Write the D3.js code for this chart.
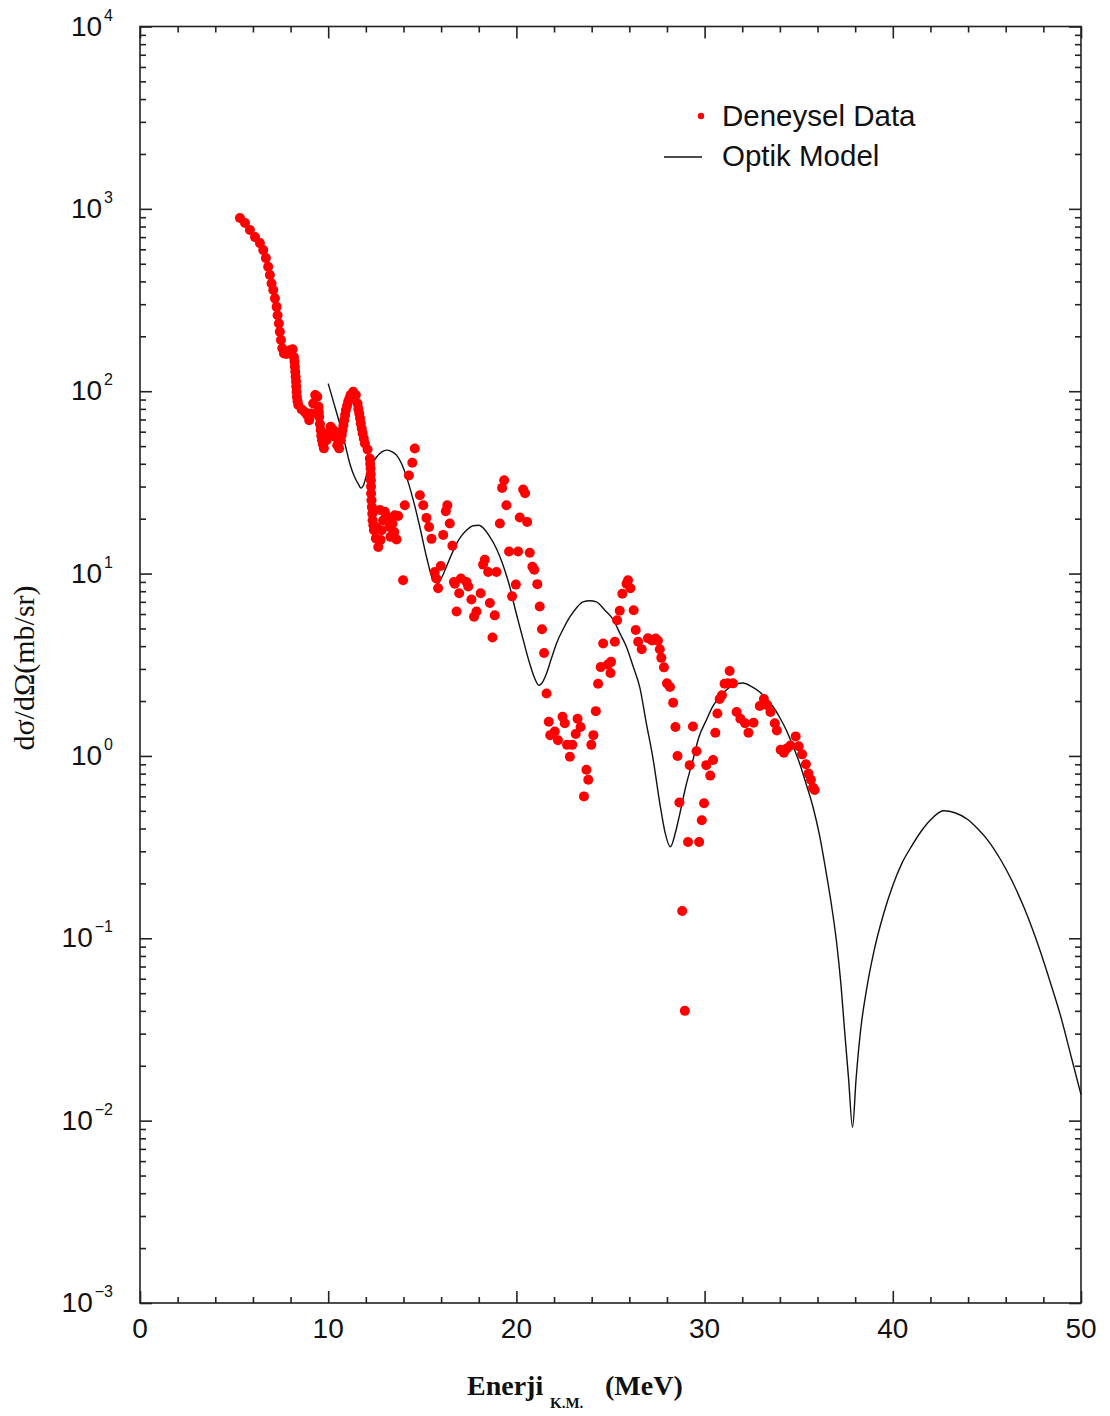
<!DOCTYPE html>
<html>
<head>
<meta charset="utf-8">
<script src="https://cdn.jsdelivr.net/npm/d3@7/dist/d3.min.js"></script>
<style>
  body { margin: 0; background: #ffffff; }
  svg { display: block; }
</style>
</head>
<body>
<svg id="chart" width="1110" height="1416"></svg>
<script>
// Measured differential cross section (mb/sr) vs. centre-of-mass energy (MeV)
const expEnergy = [
  5.31, 5.58, 5.84, 6.11, 6.37, 6.55, 6.69, 6.81, 6.90, 6.99, 7.08, 7.17, 7.26, 7.31, 7.38, 7.43,
  7.49, 7.56, 7.65, 7.79, 7.97, 8.11, 8.18, 8.21, 8.23, 8.25, 8.27, 8.29, 8.30, 8.32, 8.34, 8.37,
  8.41, 8.59, 8.76, 8.88, 8.99, 9.12, 9.20, 9.31, 9.42, 9.49, 9.50, 9.52, 9.56, 9.60, 9.63, 9.67,
  9.72, 9.77, 9.92, 10.00, 10.13, 10.27, 10.36, 10.48, 10.58, 10.67, 10.72, 10.76, 10.81, 10.85,
  10.90, 10.94, 11.00, 11.06, 11.12, 11.19, 11.33, 11.47, 11.56, 11.60, 11.65, 11.69, 11.73, 11.78,
  11.83, 11.89, 11.95, 12.09, 12.21, 12.23, 12.25, 12.26, 12.27, 12.275, 12.28, 12.30, 12.32, 12.34,
  12.36, 12.40, 12.43, 12.53, 12.57, 12.66, 12.75, 12.78, 12.84, 12.92, 13.01, 13.13, 13.24, 13.31,
  13.42, 13.51, 13.54, 13.63, 13.72,
  13.98, 14.07, 14.29, 14.47, 14.60, 14.87, 15.05, 15.22, 15.36, 15.49, 15.66, 15.74, 15.84, 15.98,
  16.11, 16.25, 16.33, 16.46, 16.60, 16.68, 16.73, 16.82, 16.96, 17.05, 17.35, 17.44, 17.61, 17.75,
  17.88, 18.10, 18.23, 18.32, 18.50, 18.59, 18.73, 18.85, 18.94, 19.12, 19.24, 19.35, 19.47, 19.61,
  19.77, 19.97, 20.09, 20.18, 20.36, 20.46, 20.57, 20.71, 20.85, 20.95, 21.11, 21.24, 21.36, 21.47,
  21.60, 21.72, 21.80, 22.04, 22.21, 22.45, 22.57, 22.69, 22.84, 22.97, 23.15, 23.25, 23.41, 23.59,
  23.72, 23.82, 23.98, 24.09, 24.22, 24.34, 24.48, 24.61, 24.86, 25.00, 25.03, 25.23, 25.35, 25.49,
  25.63, 25.85, 25.93, 26.06, 26.23, 26.34, 26.47, 26.66, 26.99, 27.20, 27.40, 27.52, 27.62, 27.70,
  27.84, 28.00, 28.16, 28.33, 28.45, 28.56, 28.66, 28.81, 28.95, 29.12, 29.21, 29.38, 29.57, 29.71,
  29.85, 29.97, 30.09, 30.30, 30.45, 30.57, 30.68, 30.80, 30.92, 31.06, 31.24, 31.33, 31.51, 31.70,
  31.90, 32.15, 32.33, 32.60, 32.93, 33.15, 33.33, 33.50, 33.73, 33.84, 34.04, 34.21, 34.37, 34.56,
  34.84, 35.00, 35.18, 35.38, 35.52, 35.65, 35.76, 35.85
];
const expSigma = [
  890, 836, 765, 700, 649, 594, 537, 481, 434, 390, 359, 323, 290, 261, 235, 212,
  191, 172, 161, 160, 168, 170, 154, 145, 136, 128, 120, 113, 106, 99, 93, 88,
  84, 79.5, 77, 74, 69.4, 75.5, 85.7, 95.2, 93.2, 82.1, 77, 72.4, 66, 61.2, 57, 53.9,
  51, 48.6, 53.9, 58.7, 63.8, 61.2, 56.2, 50.6, 48.6, 53.9, 57.5, 61.2, 65, 69.4,
  74, 78.8, 83, 87.5, 91, 95.2, 99.2, 95.2, 85.7, 80, 75.5, 71, 66.6, 62.5,
  58.7, 55, 51.7, 47.9, 42.8, 40, 37.7, 35, 32.5, 30, 27.5, 25.2, 23.2, 21.3,
  19.6, 18.4, 17.3, 15.6, 18.0, 14.0, 22.3, 15.3, 17.3, 19.6, 21.8, 20.5, 18.0, 15.9,
  18.8, 16.9, 20.9, 15.4, 20.7,
  9.2, 23.7, 34.5, 40.5, 48.5, 26.9, 23.7, 20.2, 18.0, 15.5, 10.2, 9.4, 8.3, 11.0,
  16.3, 22.0, 23.7, 18.8, 14.2, 9.0, 8.8, 6.2, 7.8, 9.4, 9.0, 8.5, 7.2, 5.8,
  6.2, 7.8, 11.2, 11.9, 10.2, 6.9, 4.46, 5.9, 10.2, 18.8, 29.5, 32.5, 23.7, 13.2,
  7.5, 8.7, 13.2, 20.3, 28.9, 27.6, 19.2, 13.0, 10.9, 10.5, 8.75, 6.6, 4.95, 3.67,
  2.2, 1.54, 1.30, 1.36, 1.22, 1.64, 1.51, 1.15, 0.99, 1.15, 1.32, 1.60, 1.44, 0.60,
  0.84, 0.74, 1.15, 1.30, 1.76, 2.49, 3.07, 4.14, 3.17, 2.85, 3.28, 4.23, 5.55, 6.25,
  7.75, 8.8, 9.2, 8.3, 6.3, 4.9, 4.23, 3.85, 4.42, 4.3, 4.4, 4.28, 3.85, 3.45,
  3.06, 2.5, 2.39, 1.96, 1.44, 1.0, 0.555, 0.141, 0.040, 0.337, 0.89, 1.45, 1.06, 0.337,
  0.444, 0.55, 0.89, 0.78, 0.95, 1.34, 1.71, 2.05, 2.15, 2.49, 2.5, 2.92, 2.5, 1.74,
  1.6, 1.51, 1.34, 1.52, 1.88, 2.05, 1.9, 1.74, 1.51, 1.38, 1.08, 1.04, 1.1, 1.14,
  1.28, 1.13, 1.02, 0.9, 0.8, 0.74, 0.67, 0.65
];

// Optical model calculation
const modelEnergy = [
  10.0, 10.3, 10.6, 10.9, 11.15, 11.45, 11.6, 11.74, 11.9, 12.04, 12.3, 12.57, 12.85, 13.1, 13.35,
  13.63, 13.9, 14.16, 14.52, 14.87, 15.22, 15.58, 15.84, 16.05, 16.28, 16.55, 16.82, 17.1, 17.35,
  17.7, 18.0, 18.3, 18.59, 18.85, 19.12, 19.4, 19.65, 19.9, 20.18, 20.45, 20.71, 20.95, 21.19,
  21.4, 21.6, 21.85, 22.13, 22.5, 22.84, 23.2, 23.54, 23.9, 24.25, 24.7, 25.14, 25.5, 25.85,
  26.2, 26.55, 26.91, 27.25, 27.62, 27.9, 28.18, 28.45, 28.68, 29.0, 29.38, 29.7, 30.09, 30.45,
  30.8, 31.15, 31.51, 32.04, 32.5, 32.93, 33.3, 33.64, 34.0, 34.35, 34.7, 35.05, 35.4, 35.76,
  36.1, 36.47, 36.75, 37.0, 37.25, 37.44, 37.65, 37.86, 38.05, 38.3, 38.6, 39.0, 39.5, 40.0,
  40.5, 41.0, 41.5, 42.0, 42.7, 43.3, 44.0, 44.5, 45.0, 45.7, 46.3, 47.0, 47.8, 48.4, 48.9,
  49.5, 50.0
];
const modelSigma = [
  110, 86, 67, 51, 40, 33, 31, 29.4, 31, 34.7, 39.5, 43.6, 46.5, 47.5, 46.8,
  44.6, 40, 33.9, 25.3, 18.0, 12.4, 9.2, 8.83, 9.6, 10.9, 12.7, 14.6, 16.2, 17.3,
  18.3, 18.4, 17.5, 15.9, 14.3, 12.4, 10.3, 8.45, 6.6, 5.1, 4.0, 3.2, 2.7, 2.44,
  2.55, 2.83, 3.4, 4.14, 5.0, 5.78, 6.5, 7.0, 7.1, 7.0, 6.3, 5.6, 4.7, 3.96,
  3.1, 2.39, 1.5, 0.98, 0.55, 0.38, 0.317, 0.38, 0.48, 0.68, 0.95, 1.27, 1.57, 1.88,
  2.11, 2.3, 2.44, 2.51, 2.4, 2.24, 2.05, 1.86, 1.62, 1.38, 1.13, 0.91, 0.7, 0.525,
  0.37, 0.226, 0.15, 0.0975, 0.055, 0.031, 0.017, 0.0092, 0.017, 0.032, 0.052, 0.085, 0.135, 0.195,
  0.26, 0.32, 0.385, 0.445, 0.50, 0.488, 0.447, 0.40, 0.35, 0.273, 0.21, 0.145, 0.087, 0.056, 0.038,
  0.022, 0.0139
];

const xMajorTicks = [0, 10, 20, 30, 40, 50];
const xTickLabels = ["0", "10", "20", "30", "40", "50"];
const yExponents = [-3, -2, -1, 0, 1, 2, 3, 4];
const legendLabels = ["Deneysel Data", "Optik Model"];
const yTitle = "dσ/dΩ(mb/sr)";
const xTitleMain = "Enerji";
const xTitleSub = "K.M.";
const xTitleUnit = "(MeV)";

const svg = d3.select("#chart");
const W = 1110, H = 1416;
const plot = { left: 140, right: 1081, top: 26.5, bottom: 1303 };

svg.append("rect").attr("width", W).attr("height", H).attr("fill", "#ffffff");

const x = d3.scaleLinear().domain([0, 50]).range([plot.left, plot.right]);
const y = d3.scaleLog().domain([1e-3, 1e4]).range([plot.bottom, plot.top]);

const xMinor = d3.range(0, 51, 2).filter(v => v % 10 !== 0);
const yMajor = yExponents.map(e => Math.pow(10, e));
const yMinor = [];
for (let e = -3; e < 4; e++) for (let k = 2; k <= 9; k++) yMinor.push(k * Math.pow(10, e));

const tickColor = "#222";
function styleAxis(g) {
  g.select(".domain").remove();
  g.selectAll(".tick line").attr("stroke", tickColor).attr("stroke-width", 1.6);
  g.selectAll(".tick text").remove();
}

// Inward ticks on all four sides
const axes = svg.append("g");
[[d3.axisBottom, plot.bottom], [d3.axisTop, plot.top]].forEach(([fn, pos]) => {
  axes.append("g").attr("transform", `translate(0,${pos})`)
    .call(fn(x).tickValues(xMajorTicks).tickSize(-12).tickFormat("")).call(styleAxis);
  axes.append("g").attr("transform", `translate(0,${pos})`)
    .call(fn(x).tickValues(xMinor).tickSize(-6).tickFormat("")).call(styleAxis);
});
[[d3.axisLeft, plot.left], [d3.axisRight, plot.right]].forEach(([fn, pos]) => {
  axes.append("g").attr("transform", `translate(${pos},0)`)
    .call(fn(y).tickValues(yMajor).tickSize(-12).tickFormat("")).call(styleAxis);
  axes.append("g").attr("transform", `translate(${pos},0)`)
    .call(fn(y).tickValues(yMinor).tickSize(-6).tickFormat("")).call(styleAxis);
});

// Frame
svg.append("rect")
  .attr("x", plot.left).attr("y", plot.top)
  .attr("width", plot.right - plot.left).attr("height", plot.bottom - plot.top)
  .attr("fill", "none").attr("stroke", tickColor).attr("stroke-width", 1.6);

const sans = "'Liberation Sans', Arial, Helvetica, sans-serif";
const serif = "'Liberation Serif', 'Times New Roman', Times, serif";

// X tick labels
svg.append("g").selectAll("text").data(xMajorTicks).join("text")
  .attr("x", d => x(d)).attr("y", 1338)
  .attr("text-anchor", "middle")
  .attr("font-family", sans).attr("font-size", 28).attr("fill", "#111")
  .text((d, i) => xTickLabels[i]);

// Y tick labels as powers of ten
const yl = svg.append("g").selectAll("text").data(yExponents).join("text")
  .attr("x", 113).attr("y", e => y(Math.pow(10, e)) + 9)
  .attr("text-anchor", "end")
  .attr("font-family", sans).attr("font-size", 28).attr("fill", "#111");
yl.append("tspan").text("10");
yl.append("tspan").attr("dy", -15).attr("dx", 2).attr("font-size", 16)
  .text(e => e < 0 ? "\u2212" + Math.abs(e) : String(e));

// Model curve
const line = d3.line()
  .x((d, i) => x(modelEnergy[i]))
  .y((d, i) => y(modelSigma[i]))
  .curve(d3.curveMonotoneX);
svg.append("path")
  .datum(modelEnergy)
  .attr("d", line)
  .attr("fill", "none").attr("stroke", "#111").attr("stroke-width", 1.4);

// Experimental points
svg.append("g").selectAll("circle").data(expEnergy).join("circle")
  .attr("cx", d => x(d))
  .attr("cy", (d, i) => y(expSigma[i]))
  .attr("r", 5)
  .attr("fill", "#ff0000");

// Legend
const lg = svg.append("g");
lg.append("circle").attr("cx", 701).attr("cy", 116).attr("r", 3.2).attr("fill", "#ff0000");
lg.append("line").attr("x1", 664).attr("x2", 702).attr("y1", 157).attr("y2", 157)
  .attr("stroke", "#111").attr("stroke-width", 1.4);
lg.selectAll("text").data(legendLabels).join("text")
  .attr("x", 722).attr("y", (d, i) => i === 0 ? 126 : 166)
  .attr("font-family", sans).attr("font-size", 29.5).attr("fill", "#111")
  .text(d => d);

// Axis titles
svg.append("text")
  .attr("transform", "translate(34,668) rotate(-90)")
  .attr("text-anchor", "middle")
  .attr("font-family", serif).attr("font-size", 30).attr("fill", "#111")
  .text(yTitle);

const xt = svg.append("text")
  .attr("x", 467).attr("y", 1395)
  .attr("font-family", serif).attr("font-weight", "bold").attr("font-size", 28).attr("fill", "#111");
xt.append("tspan").text(xTitleMain);
xt.append("tspan").attr("x", 550).attr("dy", 13).attr("font-size", 15).text(xTitleSub);
xt.append("tspan").attr("x", 605).attr("dy", -13).text(xTitleUnit);
</script>
</body>
</html>
